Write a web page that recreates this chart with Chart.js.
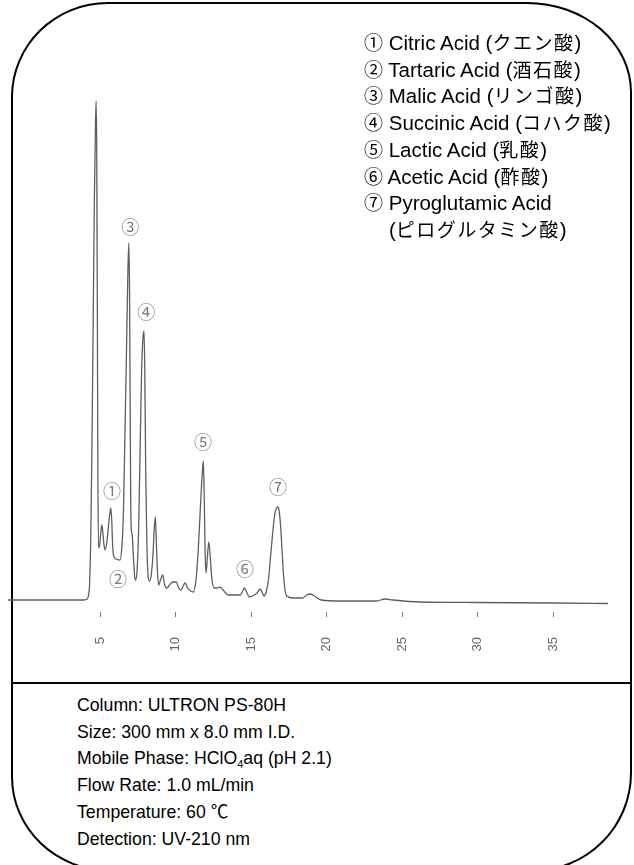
<!DOCTYPE html>
<html>
<head>
<meta charset="utf-8">
<script src="https://cdn.jsdelivr.net/npm/chart.js@4"></script>
<style>
  html, body { margin: 0; padding: 0; background: #fff; }
  body { width: 634px; height: 865px; position: relative; overflow: hidden;
         font-family: "Liberation Sans", Arial, "Noto Sans CJK JP", sans-serif; color: #000; }
  #frame { position: absolute; left: 11px; top: 2px; width: 621px; height: 870px;
           box-sizing: border-box; border: 2px solid #000;
           border-radius: 97px 105px 100px 100px / 95px 90px 99px 95px; }
  #divider { position: absolute; left: 11px; top: 682px; width: 621px; height: 2px; background: #000; }
  #chart { position: absolute; left: 0; top: 0; }
  #legend { position: absolute; left: 364px; top: 30px; font-size: 20.5px; line-height: 26.7px; white-space: nowrap; }
  #legend .ja { font-family: "Noto Sans CJK JP", sans-serif; font-size: 19px; line-height: 1; }
  #legend .wide { letter-spacing: 1.5px; }
  #legend .cont { padding-left: 25px; }
  #info { position: absolute; left: 77px; top: 692px; font-size: 17.7px; line-height: 26.7px; white-space: nowrap; }
  #info sub { font-size: 11px; line-height: 0; vertical-align: baseline; position: relative; top: 4px; }
</style>
</head>
<body>
<div id="frame"></div>
<div id="divider"></div>
<canvas id="chart" width="634" height="683"></canvas>
<div id="legend"></div>
<div id="info"></div>

<script>
'use strict';

// Retention time (min) and detector signal (arbitrary units)
let retentionTimes = [
  -1.1, 3.9, 4.15, 4.22, 4.3, 4.38, 4.45, 4.53, 4.62, 4.7,
  4.74, 4.78, 4.82, 4.85, 4.89, 4.97, 5.05, 5.11, 5.18, 5.26,
  5.33, 5.45, 5.58, 5.66, 5.71, 5.77, 5.83, 5.9, 6.05, 6.32,
  6.45, 6.55, 6.65, 6.75, 6.83, 6.9, 6.95, 6.99, 7.03, 7.07,
  7.12, 7.2, 7.28, 7.35, 7.45, 7.55, 7.65, 7.75, 7.84, 7.91,
  7.96, 8.02, 8.1, 8.18, 8.26, 8.38, 8.5, 8.58, 8.66, 8.72,
  8.8, 8.88, 9.0, 9.15, 9.28, 9.42, 9.6, 9.8, 10.05, 10.2,
  10.34, 10.5, 10.63, 10.8, 11.0, 11.18, 11.35, 11.5, 11.65, 11.76,
  11.84, 11.9, 11.96, 12.02, 12.1, 12.2, 12.3, 12.4, 12.55, 12.75,
  12.95, 13.2, 13.5, 14.0, 14.3, 14.45, 14.56, 14.7, 14.89, 15.1,
  15.4, 15.6, 15.75, 15.86, 16.0, 16.15, 16.3, 16.45, 16.58, 16.7,
  16.77, 16.85, 16.95, 17.05, 17.15, 17.25, 17.36, 17.8, 18.4, 18.7,
  18.91, 19.2, 19.64, 21.0, 23.3, 23.87, 24.4, 26.2, 30.0, 35.0,
  38.64
];
let signal = [
  0, 0, 1, 4, 15, 60, 140, 260, 400, 480,
  499, 440, 280, 140, 52, 55, 68, 75, 68, 55,
  50, 58, 78, 88, 92, 80, 55, 44, 41, 40,
  55, 90, 170, 250, 320, 357, 310, 200, 95, 70,
  66, 45, 25, 20, 30, 70, 150, 230, 262, 269,
  230, 130, 55, 24, 19, 24, 45, 70, 83, 60,
  28, 15, 20, 25, 15, 12, 15, 18, 18, 12,
  10, 14, 17, 12, 9, 8, 20, 50, 95, 125,
  139, 100, 45, 27, 42, 58, 42, 22, 12, 12,
  13, 9, 5, 5, 5, 9, 12, 8, 3, 4,
  7, 11, 7, 4, 8, 20, 45, 70, 87, 92,
  93, 90, 75, 50, 25, 10, 4, 2, 2, 5,
  6, 4, 0, -1, -1, 1, 0, -2, -2.5, -3,
  -3.5
];

let tickValues = [5, 10, 15, 20, 25, 30, 35];

// Peak markers
let peakMarks = ['①', '②', '③', '④', '⑤', '⑥', '⑦'];
let peakMarkTimes = [5.79, 6.19, 6.99, 8.05, 11.82, 14.6, 16.79];
let peakMarkLevels = [109, 21, 373, 288, 158, 31, 113];

let compoundNames = ['Citric Acid', 'Tartaric Acid', 'Malic Acid', 'Succinic Acid',
  'Lactic Acid', 'Acetic Acid', 'Pyroglutamic Acid'];
let compoundNamesJa = ['クエン酸', '酒石酸', 'リンゴ酸', 'コハク酸', '乳酸', '酢酸', 'ピログルタミン酸'];

let conditions = [
  'Column: ULTRON PS-80H',
  'Size: 300 mm x 8.0 mm I.D.',
  'Mobile Phase: HClO<sub>4</sub>aq (pH 2.1)',
  'Flow Rate: 1.0 mL/min',
  'Temperature: 60 ℃',
  'Detection: UV-210 nm'
];

// Legend
let legend = document.getElementById('legend');
for (let i = 0; i < compoundNames.length; i++) {
  let row = document.createElement('div');
  let mark = `<span class="ja">${peakMarks[i]}</span>`;
  let ja = `(<span class="ja wide">${compoundNamesJa[i]}</span>)`;
  if (i === compoundNames.length - 1) {
    row.innerHTML = `${mark} ${compoundNames[i]}<div class="cont">${ja}</div>`;
  } else {
    row.innerHTML = `${mark} ${compoundNames[i]} ${ja}`;
  }
  legend.appendChild(row);
}

let info = document.getElementById('info');
for (let i = 0; i < conditions.length; i++) {
  let row = document.createElement('div');
  row.innerHTML = conditions[i];
  info.appendChild(row);
}

// Circled numbers above the peaks
const peakLabelPlugin = {
  id: 'peakLabels',
  afterDatasetsDraw(chart) {
    let ctx = chart.ctx;
    let xs = chart.scales.x;
    let ys = chart.scales.y;
    ctx.save();
    ctx.font = '18px "Noto Sans CJK JP"';
    ctx.fillStyle = '#7a7a7a';
    ctx.textAlign = 'center';
    ctx.textBaseline = 'middle';
    for (let i = 0; i < peakMarks.length; i++) {
      ctx.fillText(peakMarks[i], xs.getPixelForValue(peakMarkTimes[i]), ys.getPixelForValue(peakMarkLevels[i]));
    }
    ctx.restore();
  }
};

let points = retentionTimes.map((t, i) => ({ x: t, y: signal[i] }));

const ctx = document.getElementById('chart');
new Chart(ctx, {
  type: 'line',
  data: {
    datasets: [{
      data: points,
      borderColor: '#5e5e5e',
      borderWidth: 1.3,
      pointRadius: 0,
      fill: false,
      cubicInterpolationMode: 'monotone'
    }]
  },
  options: {
    responsive: false,
    animation: false,
    layout: { padding: { left: 8, right: 26, top: 20, bottom: 31 } },
    plugins: { legend: { display: false }, tooltip: { enabled: false } },
    scales: {
      x: {
        type: 'linear',
        min: -1.1,
        max: 38.64,
        afterBuildTicks: (scale) => {
          scale.ticks = tickValues.map(v => ({ value: v }));
        },
        afterFit: (scale) => { scale.height = 40; },
        border: { display: false },
        grid: { drawOnChartArea: false, drawTicks: true, tickLength: 5, color: '#777', tickWidth: 1 },
        ticks: {
          minRotation: 90,
          maxRotation: 90,
          padding: 20,
          color: '#666',
          font: { family: 'Liberation Sans', size: 13 }
        }
      },
      y: {
        display: false,
        min: -12,
        max: 580
      }
    }
  },
  plugins: [peakLabelPlugin]
});
</script>
</body>
</html>
